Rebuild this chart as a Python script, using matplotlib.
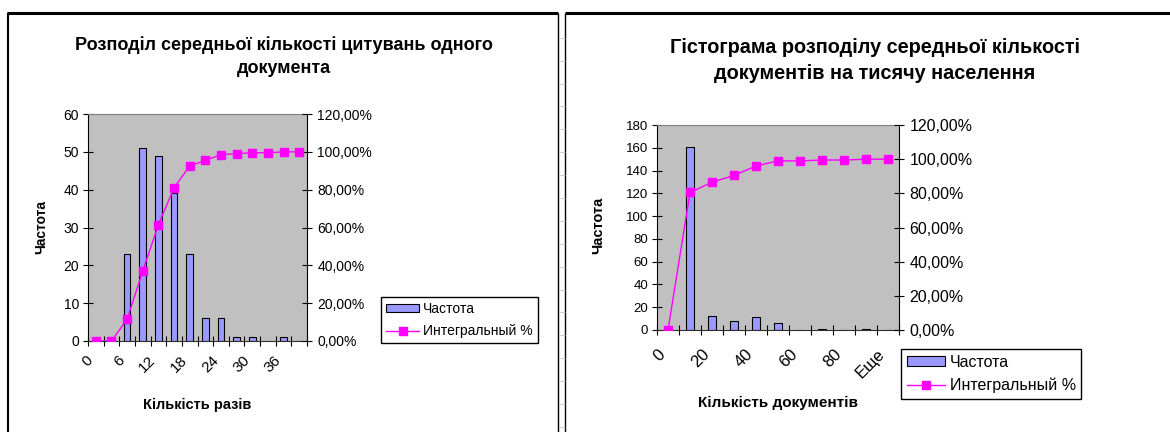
import numpy as np
import matplotlib
matplotlib.use('Agg')
import matplotlib.pyplot as plt
from matplotlib.lines import Line2D
from matplotlib.patches import Patch

plt.rcParams['font.family'] = ['Liberation Sans', 'DejaVu Sans']

# ліва діаграма: середня кількість цитувань
cit_bins = ['0', '3', '6', '9', '12', '15', '18', '21', '24', '27', '30', '33', '36', 'Еще']
cit_freq = [0, 0, 23, 51, 49, 39, 23, 6, 6, 1, 1, 0, 1, 0]
cit_cum = [0, 0, 11.5, 37, 61.5, 81, 92.5, 95.5, 98.5, 99, 99.5, 99.5, 100, 100]

# права діаграма: документи на тисячу населення
doc_bins = ['0', '10', '20', '30', '40', '50', '60', '70', '80', '90', 'Еще']
doc_freq = [0, 161, 12, 8, 11, 6, 0, 1, 0, 1, 0]
doc_cum = [0, 80.5, 86.5, 90.5, 96, 99, 99, 99.5, 99.5, 100, 100]

W, H = 1170, 432
fig = plt.figure(figsize=(W / 100, H / 100), dpi=100)


def fx(x):
    return x / W


def fy(y):
    return 1 - y / H


def line(x0, y0, x1, y1, lw, color='black'):
    fig.add_artist(Line2D([fx(x0), fx(x1)], [fy(y0), fy(y1)], transform=fig.transFigure,
                          color=color, lw=lw, solid_capstyle='butt'))


def chart(box, bins, freq, cum, ymax, ystep, fs_l, fs_r, fs_x, bar_w, xpad):
    x0, y0, x1, y1 = box
    ax = fig.add_axes([fx(x0), fy(y1), (x1 - x0) / W, (y1 - y0) / H])
    n = len(bins)
    xs = np.arange(n)
    ax.bar(xs, freq, width=bar_w, color='#9999FF', edgecolor='black', linewidth=0.8, zorder=2)
    ax.set_facecolor('#C0C0C0')
    ax.set_xlim(-0.5, n - 0.5)
    ax.set_ylim(0, ymax)
    ax.set_yticks(np.arange(0, ymax + 1, ystep))
    ax.tick_params(axis='y', direction='inout', length=7, width=0.8, labelsize=fs_l, pad=3)
    ax.set_xticks(xs[::2])
    ax.set_xticklabels(bins[::2], rotation=45, ha='right', rotation_mode='default')
    ax.tick_params(axis='x', length=0, labelsize=fs_x, pad=xpad)
    ax.set_xticks(np.arange(-0.5, n, 1), minor=True)
    ax.tick_params(axis='x', which='minor', direction='inout', length=7, width=0.8)
    ax.spines['top'].set_color('#808080')
    ax.spines['right'].set_visible(False)
    ax.spines['bottom'].set_color('#303030')

    ax2 = ax.twinx()
    ax2.plot(xs, cum, color='#FF00FF', marker='s', ms=6, lw=1, zorder=3)
    ax2.set_ylim(0, 120)
    ax2.set_yticks(np.arange(0, 121, 20))
    ax2.set_yticklabels([('%.2f%%' % v).replace('.', ',') for v in np.arange(0, 121, 20)])
    ax2.tick_params(axis='y', direction='inout', length=7, width=0.8, labelsize=fs_r, pad=4)
    for s in ['top', 'left', 'bottom']:
        ax2.spines[s].set_visible(False)
    return ax, ax2


def legend(x, y, fs, ls):
    h = [Patch(facecolor='#9999FF', edgecolor='black', linewidth=0.8),
         Line2D([], [], color='#FF00FF', marker='s', ms=6, lw=1)]
    fig.legend(h, ['Частота', 'Интегральный %'], loc='upper left',
               bbox_to_anchor=(fx(x), fy(y)), borderaxespad=0, fontsize=fs,
               frameon=True, fancybox=False, edgecolor='black', framealpha=1,
               handlelength=2.4, handleheight=0.6, handletextpad=0.3,
               borderpad=0.35, labelspacing=ls)


# ліва
ax, ax2 = chart((88, 114, 307, 341), cit_bins, cit_freq, cit_cum, 60, 10, 10, 10, 11, 0.42, 9)
fig.text(fx(41), fy(227), 'Частота', rotation=90, ha='center', va='center',
         fontsize=10, fontweight='bold')
fig.text(fx(197), fy(405), 'Кількість разів', ha='center', va='center',
         fontsize=10.5, fontweight='bold')
fig.text(fx(284), fy(56.5), 'Розподіл середньої кількості цитувань одного\nдокумента',
         ha='center', va='center', fontsize=13, fontweight='bold', linespacing=1.45)
legend(381, 297, 10, 0.6)

# права
ax, ax2 = chart((657, 125, 899, 330), doc_bins, doc_freq, doc_cum, 180, 20, 9.5, 11.5, 12, 0.38, 12)
fig.text(fx(598), fy(225), 'Частота', rotation=90, ha='center', va='center',
         fontsize=10.5, fontweight='bold')
fig.text(fx(778), fy(403), 'Кількість документів', ha='center', va='center',
         fontsize=11, fontweight='bold')
fig.text(fx(875), fy(60.5), 'Гістограма розподілу середньої кількості\nдокументів на тисячу населення',
         ha='center', va='center', fontsize=14.3, fontweight='bold', linespacing=1.45)
legend(901, 349, 11.5, 0.5)

# рамки
line(8, 13, 8, 432, 1.5)
line(7, 13, 558, 13, 2.2)
line(558, 13, 558, 432, 1.0)
line(565, 13, 565, 432, 1.0)
line(565, 13, 1170, 13, 2.2)
for yy in np.arange(37.7, 432, 22.9):
    line(558.5, yy, 564.5, yy, 0.6, '#C8C8C8')

fig.savefig('out.png', dpi=100)
